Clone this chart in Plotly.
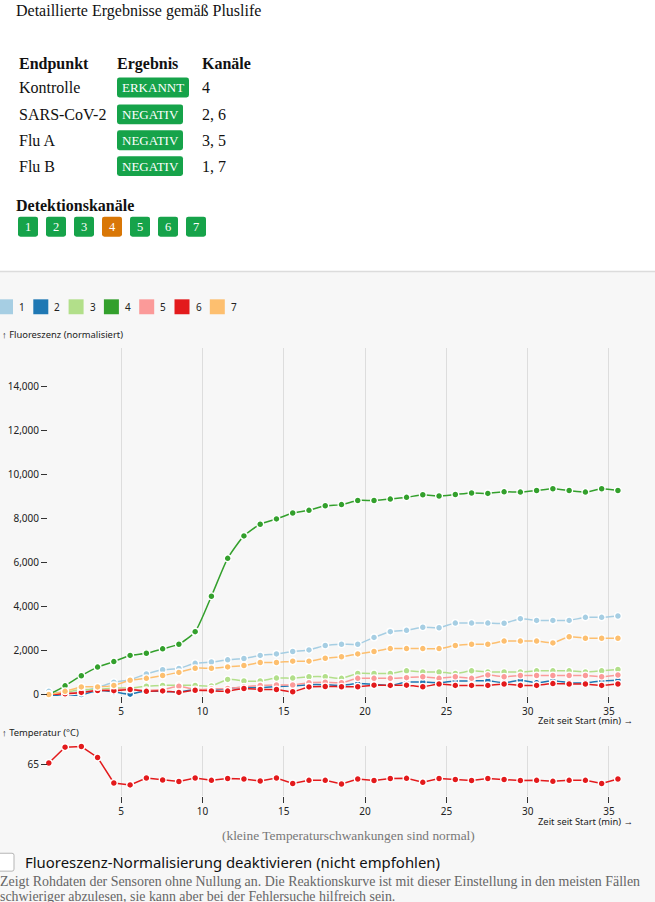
import plotly.graph_objects as go

# ---------------- data ----------------
time_min = [0.55, 1.55, 2.55, 3.55, 4.55, 5.55, 6.55, 7.55, 8.55, 9.55,
            10.55, 11.55, 12.55, 13.55, 14.55, 15.55, 16.55, 17.55, 18.55, 19.55,
            20.55, 21.55, 22.55, 23.55, 24.55, 25.55, 26.55, 27.55, 28.55, 29.55,
            30.55, 31.55, 32.55, 33.55, 34.55, 35.55]

channel_names = ["1", "2", "3", "4", "5", "6", "7"]
channel_colors = ["#a6cee3", "#1f78b4", "#b2df8a", "#33a02c", "#fb9a99", "#e31a1c", "#fdbf6f"]

ch1 = [150, 60, 150, 320, 560, 680, 940, 1130, 1190, 1420, 1480, 1580, 1640, 1780, 1850, 1960, 2030, 2230,
       2290, 2290, 2600, 2860, 2920, 3060, 3040, 3250, 3250, 3250, 3240, 3450, 3370, 3370, 3370, 3510, 3510, 3570]
ch2 = [0, -80, 0, 180, 130, 20, 180, 140, 130, 230, 200, 280, 320, 320, 370, 400, 450, 450,
       420, 500, 470, 420, 570, 570, 540, 620, 620, 630, 540, 650, 540, 630, 540, 540, 620, 650]
ch3 = [0, 100, 230, 230, 300, 300, 380, 420, 420, 420, 390, 690, 620, 620, 750, 750, 810, 810,
       740, 960, 960, 960, 1080, 1030, 1030, 960, 1080, 1030, 1030, 1030, 1080, 1080, 1080, 1030, 1080, 1140]
ch4 = [0, 400, 860, 1250, 1500, 1780, 1880, 2080, 2290, 2860, 4470, 6190, 7210, 7740, 7980, 8250, 8370, 8580,
       8630, 8820, 8820, 8880, 8960, 9080, 9020, 9090, 9160, 9140, 9210, 9200, 9270, 9350, 9270, 9200, 9350, 9270]
ch5 = [0, 60, 100, 200, 230, 250, 200, 230, 380, 230, 260, 280, 350, 420, 440, 440, 540, 560,
       540, 740, 740, 740, 770, 810, 740, 810, 740, 890, 810, 870, 870, 870, 870, 870, 810, 890]
ch6 = [0, 40, 100, 190, 180, 230, 150, 170, 100, 200, 170, 160, 280, 230, 230, 130, 350, 370,
       360, 360, 430, 420, 430, 360, 480, 420, 420, 420, 480, 420, 420, 500, 480, 480, 420, 480]
ch7 = [0, 150, 350, 350, 420, 650, 740, 870, 1010, 1200, 1200, 1260, 1320, 1460, 1460, 1520, 1520, 1650,
       1720, 1850, 1960, 2090, 2090, 2090, 2090, 2230, 2290, 2290, 2430, 2430, 2430, 2350, 2630, 2560, 2560, 2560]
channel_values = [ch1, ch2, ch3, ch4, ch5, ch6, ch7]

temperature_c = [65.07, 65.87, 65.90, 65.35, 64.07, 63.97, 64.32, 64.22, 64.14, 64.32,
                 64.20, 64.29, 64.27, 64.17, 64.32, 64.04, 64.20, 64.20, 64.02, 64.27,
                 64.19, 64.29, 64.30, 64.10, 64.29, 64.24, 64.19, 64.29, 64.24, 64.19,
                 64.20, 64.15, 64.20, 64.20, 64.04, 64.27]
temp_color = "#e31a1c"

endpoints = ["Kontrolle", "SARS-CoV-2", "Flu A", "Flu B"]
results = ["ERKANNT", "NEGATIV", "NEGATIV", "NEGATIV"]
endpoint_channels = ["4", "2, 6", "3, 5", "1, 7"]
detection_channels = ["1", "2", "3", "4", "5", "6", "7"]
detection_highlight = ["4"]

# ---------------- helpers (pixel -> paper) ----------------
W, H = 655, 902
def px(x):
    return x / W
def py(y):
    return 1 - y / H

def rrect(x0, y0, x1, y1, r=2.5):
    rx, ry = r / W, r / H
    X0, X1 = px(x0), px(x1)
    Yt, Yb = py(y0), py(y1)
    return (f"M {X0+rx},{Yt} L {X1-rx},{Yt} Q {X1},{Yt} {X1},{Yt-ry} "
            f"L {X1},{Yb+ry} Q {X1},{Yb} {X1-rx},{Yb} L {X0+rx},{Yb} "
            f"Q {X0},{Yb} {X0},{Yb+ry} L {X0},{Yt-ry} Q {X0},{Yt} {X0+rx},{Yt} Z")

SANS = "Noto Sans, Open Sans, sans-serif"
SERIF = "Liberation Serif, Times New Roman, serif"

fig = go.Figure()

# lines first (all channels), then dots
for name, color, vals in zip(channel_names, channel_colors, channel_values):
    fig.add_trace(go.Scatter(x=time_min, y=vals, mode="lines", name=name,
                             line=dict(color=color, width=1.5, shape="spline", smoothing=0.6),
                             showlegend=False, hoverinfo="skip", xaxis="x", yaxis="y"))
for name, color, vals in zip(channel_names, channel_colors, channel_values):
    fig.add_trace(go.Scatter(x=time_min, y=vals, mode="markers", name=name,
                             marker=dict(color=color, size=6.8, line=dict(color="white", width=1.3)),
                             showlegend=False, cliponaxis=False, xaxis="x", yaxis="y"))

fig.add_trace(go.Scatter(x=time_min, y=temperature_c, mode="lines", line=dict(color=temp_color, width=1.5),
                         showlegend=False, hoverinfo="skip", xaxis="x2", yaxis="y2"))
fig.add_trace(go.Scatter(x=time_min, y=temperature_c, mode="markers",
                         marker=dict(color=temp_color, size=6.8, line=dict(color="white", width=1.3)),
                         showlegend=False, cliponaxis=False, xaxis="x2", yaxis="y2"))

xdom = [px(48), px(635)]
xrange_ = [0.5, 36.6]
tickfont = dict(family=SANS, size=10, color="#222")
common_x = dict(range=xrange_, domain=xdom, tick0=0, dtick=5, showgrid=True, gridcolor="#dddddd",
                gridwidth=1, zeroline=False, showline=False, ticks="outside", ticklen=6,
                tickcolor="#333", tickwidth=1, tickfont=tickfont, fixedrange=True)

shapes = []
annotations = []

# white top panel + separator
shapes.append(dict(type="rect", xref="paper", yref="paper", x0=0, x1=1, y0=py(273), y1=1,
                   fillcolor="white", line=dict(width=0), layer="below"))
shapes.append(dict(type="line", xref="paper", yref="paper", x0=0, x1=1, y0=py(273), y1=py(273),
                   line=dict(color="#dcdcdc", width=1.5), layer="below"))

def text(t, x, y, size=16, family=SERIF, color="#111", xanchor="left"):
    annotations.append(dict(text=t, x=px(x), y=py(y), xref="paper", yref="paper", showarrow=False,
                            xanchor=xanchor, yanchor="middle", font=dict(family=family, size=size, color=color)))

text("Detaillierte Ergebnisse gemäß Pluslife", 14, 11, 16)
text("<b>Endpunkt</b>", 17, 64, 16)
text("<b>Ergebnis</b>", 115, 64, 16)
text("<b>Kanäle</b>", 200, 64, 16)
row_y = [88, 115, 141, 167]
for ep, res, ch, yy in zip(endpoints, results, endpoint_channels, row_y):
    text(ep, 17, yy, 16)
    wbadge = 72 if res == "ERKANNT" else 66
    shapes.append(dict(type="path", xref="paper", yref="paper", path=rrect(117, yy - 10, 117 + wbadge, yy + 10),
                       fillcolor="#16a34a", line=dict(width=0)))
    text(res, 117 + wbadge / 2, yy, 13, color="white", xanchor="center")
    text(ch, 200, yy, 16)

text("<b>Detektionskanäle</b>", 14, 207, 16)
for i, dc in enumerate(detection_channels):
    x0 = 18 + 28 * i
    col = "#d97706" if dc in detection_highlight else "#16a34a"
    shapes.append(dict(type="path", xref="paper", yref="paper", path=rrect(x0, 218, x0 + 20, 238),
                       fillcolor=col, line=dict(width=0)))
    text(dc, x0 + 10, 228, 12.5, color="white", xanchor="center")

# legend swatches
for i, (name, color) in enumerate(zip(channel_names, channel_colors)):
    x0 = -2 + 35.3 * i
    shapes.append(dict(type="rect", xref="paper", yref="paper", x0=px(x0), x1=px(x0 + 15),
                       y0=py(316), y1=py(301), fillcolor=color, line=dict(width=0)))
    text(name, x0 + 19, 309, 10, family=SANS, color="#222")

# axis labels
text("↑ Fluoreszenz (normalisiert)", 0, 336, 9.4, family=SANS, color="#222")
text("Zeit seit Start (min) →", 635, 725, 9.4, family=SANS, color="#222", xanchor="right")
text("↑ Temperatur (°C)", 0, 737, 9.4, family=SANS, color="#222")
text("Zeit seit Start (min) →", 635, 826, 9.4, family=SANS, color="#222", xanchor="right")

text("(kleine Temperaturschwankungen sind normal)", 348, 840, 13.4, color="#777", xanchor="center")

# checkbox
shapes.append(dict(type="path", xref="paper", yref="paper", path=rrect(-4, 858, 14, 876, 2),
                   fillcolor="white", line=dict(color="#b5b5b5", width=1)))
text("Fluoreszenz-Normalisierung deaktivieren (nicht empfohlen)", 23, 867, 14.9, family=SANS, color="#111")
text("Zeigt Rohdaten der Sensoren ohne Nullung an. Die Reaktionskurve ist mit dieser Einstellung in den meisten Fällen",
     -2, 886, 13.9, color="#666")
text("schwieriger abzulesen, sie kann aber bei der Fehlersuche hilfreich sein.", -2, 901, 13.9, color="#666")

fig.update_layout(
    width=W, height=H, autosize=False,
    margin=dict(l=0, r=0, t=0, b=0, pad=0),
    paper_bgcolor="#f7f7f7", plot_bgcolor="rgba(0,0,0,0)",
    xaxis=dict(anchor="y", **common_x),
    yaxis=dict(domain=[py(700), py(350)], range=[-68, 15741], tickvals=[0, 2000, 4000, 6000, 8000, 10000, 12000, 14000],
               tickformat=",", showgrid=False, zeroline=False, showline=False, ticks="outside",
               ticklen=6, tickcolor="#333", tickfont=tickfont, fixedrange=True),
    xaxis2=dict(anchor="y2", **common_x),
    yaxis2=dict(domain=[py(800), py(750)], range=[63.435, 65.935], tickvals=[65],
                showgrid=False, zeroline=False, showline=False, ticks="outside",
                ticklen=6, tickcolor="#333", tickfont=tickfont, fixedrange=True),
    shapes=shapes, annotations=annotations, showlegend=False,
)

fig.write_html("out.html", config={"displayModeBar": False},
               post_script="document.body.style.margin='0';document.body.style.overflow='hidden';")
